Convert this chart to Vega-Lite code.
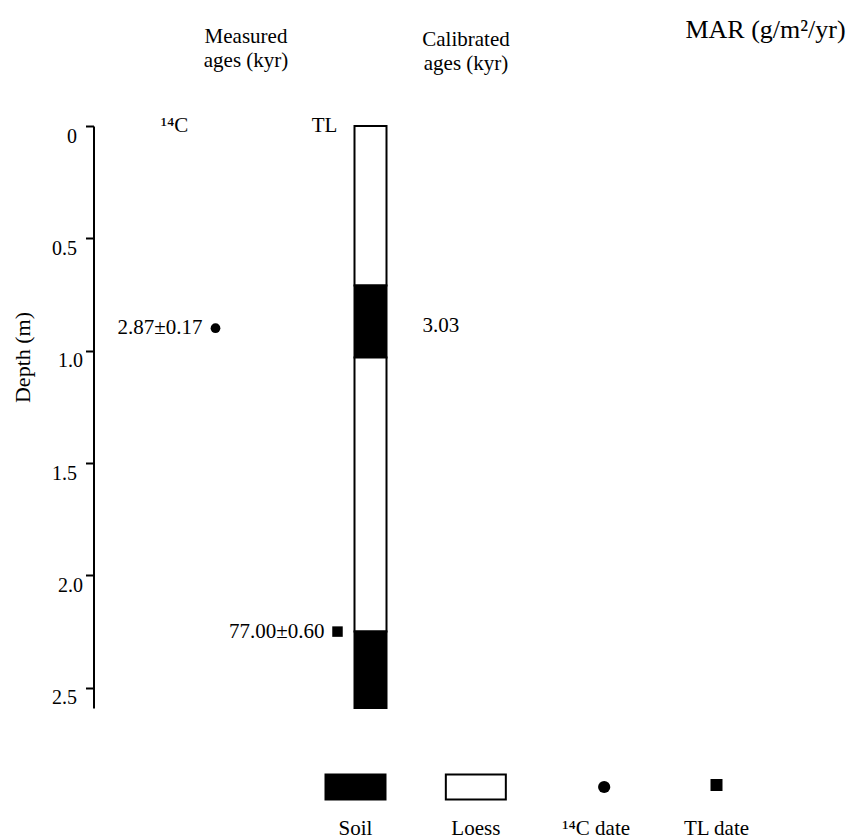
{
  "$schema": "https://vega.github.io/schema/vega-lite/v6.json",
  "padding": {"left": 11.5, "top": 0, "right": 0, "bottom": 0},
  "autosize": {"type": "pad"},
  "bounds": "flush",
  "spacing": 28,
  "config": {
    "view": {"stroke": null},
    "font": "Liberation Serif",
    "text": {"font": "Liberation Serif", "fontSize": 21, "color": "#000000"},
    "axis": {"labelFont": "Liberation Serif", "titleFont": "Liberation Serif"}
  },
  "datasets": {
    "headers": [
      {"header": "Measured", "line": 1, "text": "Measured"},
      {"header": "Measured", "line": 2, "text": "ages (kyr)"},
      {"header": "Calibrated", "line": 1, "text": "Calibrated"},
      {"header": "Calibrated", "line": 2, "text": "ages (kyr)"},
      {"header": "MAR", "line": 1, "text": "MAR (g/m²/yr)"}
    ],
    "lithology": [
      {"track": "Lithology", "unit": "Loess", "top": 0, "bottom": 0.71},
      {"track": "Lithology", "unit": "Soil", "top": 0.71, "bottom": 1.03},
      {"track": "Lithology", "unit": "Loess", "top": 1.03, "bottom": 2.25},
      {"track": "Lithology", "unit": "Soil", "top": 2.25, "bottom": 2.59}
    ],
    "dates": [
      {"track": "14C", "depth": 0.9, "age": "2.87±0.17", "calibrated": "3.03"},
      {"track": "TL", "depth": 2.25, "age": "77.00±0.60", "calibrated": ""}
    ],
    "methods": [
      {"track": "14C", "label": "¹⁴C"},
      {"track": "TL", "label": "TL"}
    ],
    "legend": [
      {"item": "Soil"},
      {"item": "Loess"},
      {"item": "¹⁴C date"},
      {"item": "TL date"}
    ]
  },
  "vconcat": [
    {
      "width": 757,
      "height": 98,
      "data": {"name": "headers"},
      "encoding": {
        "x": {"field": "header", "type": "nominal", "axis": null,
              "scale": {"type": "point", "domain": ["Measured", "Calibrated", "MAR"], "range": [152.5, 672], "padding": 0}},
        "y": {"field": "line", "type": "ordinal", "axis": null,
              "scale": {"type": "point", "domain": [1, 2], "range": [43, 67], "padding": 0}},
        "text": {"field": "text"}
      },
      "layer": [
        {"transform": [{"filter": "datum.header == 'Measured'"}],
         "mark": {"type": "text", "font": "Liberation Serif", "baseline": "alphabetic", "align": "center", "fontSize": 21}},
        {"transform": [{"filter": "datum.header == 'Calibrated'"}],
         "mark": {"type": "text", "font": "Liberation Serif", "baseline": "alphabetic", "align": "center", "fontSize": 21, "dx": -39.75, "dy": 3}},
        {"transform": [{"filter": "datum.header == 'MAR'"}],
         "mark": {"type": "text", "font": "Liberation Serif", "baseline": "alphabetic", "align": "center", "fontSize": 26, "dy": -5}}
      ]
    },
    {
      "width": 757,
      "height": 582,
      "layer": [
        {
          "data": {"name": "lithology"},
          "mark": {"type": "bar", "width": 32, "stroke": "#000000", "strokeWidth": 2},
          "encoding": {
            "x": {"field": "track", "type": "nominal", "axis": null,
                  "scale": {"type": "point", "domain": ["14C", "TL", "Lithology", "Calibrated"], "range": [122, 354.5], "padding": 0}},
            "y": {"field": "top", "type": "quantitative",
                  "scale": {"domain": [0, 2.59], "reverse": true, "nice": false, "zero": false},
                  "axis": {
                    "title": "Depth (m)",
                    "values": [0, 0.5, 1, 1.5, 2, 2.5],
                    "labelExpr": "datum.value == 0 ? '0' : format(datum.value, '.1f')",
                    "grid": false,
                    "domainColor": "#000000", "domainWidth": 2,
                    "tickColor": "#000000", "tickWidth": 2, "tickSize": 8,
                    "labelFont": "Liberation Serif", "labelFontSize": 20, "labelFontWeight": "normal", "labelColor": "#000000",
                    "labelBaseline": "top", "labelAlign": "right",
                    "labelPadding": {"condition": {"test": "datum.value == 1 || datum.value == 2", "value": 3}, "value": 9},
                    "labelOverlap": false, "labelFlush": false,
                    "titleFont": "Liberation Serif", "titleFontSize": 22, "titleFontWeight": "normal", "titleColor": "#000000",
                    "titleAngle": 270, "titleX": -71, "titleY": 231, "titleAlign": "center", "titleBaseline": "middle"
                  }},
            "y2": {"field": "bottom"},
            "fill": {"field": "unit", "type": "nominal",
                     "scale": {"domain": ["Soil", "Loess"], "range": ["#000000", "#ffffff"]}, "legend": null}
          }
        },
        {
          "data": {"name": "dates"},
          "transform": [{"filter": "datum.track == '14C'"}],
          "mark": {"type": "point", "shape": "circle", "filled": true, "size": 95, "color": "#000000", "opacity": 1},
          "encoding": {
            "x": {"field": "track", "type": "nominal", "axis": null},
            "y": {"field": "depth", "type": "quantitative"}
          }
        },
        {
          "data": {"name": "dates"},
          "transform": [{"filter": "datum.track == 'TL'"}],
          "mark": {"type": "point", "shape": "square", "filled": true, "size": 110, "color": "#000000", "opacity": 1, "xOffset": 44.5},
          "encoding": {
            "x": {"field": "track", "type": "nominal", "axis": null},
            "y": {"field": "depth", "type": "quantitative"}
          }
        },
        {
          "data": {"name": "dates"},
          "transform": [{"filter": "datum.track == '14C'"}],
          "mark": {"type": "text", "font": "Liberation Serif", "align": "right", "baseline": "middle", "dx": -13, "fontSize": 21},
          "encoding": {
            "x": {"field": "track", "type": "nominal", "axis": null},
            "y": {"field": "depth", "type": "quantitative"},
            "text": {"field": "age"}
          }
        },
        {
          "data": {"name": "dates"},
          "transform": [{"filter": "datum.track == 'TL'"}],
          "mark": {"type": "text", "font": "Liberation Serif", "align": "right", "baseline": "middle", "dx": 31.5, "fontSize": 21},
          "encoding": {
            "x": {"field": "track", "type": "nominal", "axis": null},
            "y": {"field": "depth", "type": "quantitative"},
            "text": {"field": "age"}
          }
        },
        {
          "data": {"name": "dates"},
          "transform": [{"filter": "datum.calibrated != ''"}],
          "mark": {"type": "text", "font": "Liberation Serif", "align": "left", "baseline": "middle", "dx": -25.5, "dy": -2, "fontSize": 21},
          "encoding": {
            "x": {"datum": "Calibrated", "type": "nominal", "axis": null},
            "y": {"field": "depth", "type": "quantitative"},
            "text": {"field": "calibrated"}
          }
        },
        {
          "data": {"name": "methods"},
          "transform": [{"filter": "datum.track == '14C'"}],
          "mark": {"type": "text", "font": "Liberation Serif", "align": "center", "baseline": "middle", "dx": -41, "fontSize": 21},
          "encoding": {
            "x": {"field": "track", "type": "nominal", "axis": null},
            "y": {"datum": 0, "type": "quantitative"},
            "text": {"field": "label"}
          }
        },
        {
          "data": {"name": "methods"},
          "transform": [{"filter": "datum.track == 'TL'"}],
          "mark": {"type": "text", "font": "Liberation Serif", "align": "center", "baseline": "middle", "dx": 31.5, "fontSize": 21},
          "encoding": {
            "x": {"field": "track", "type": "nominal", "axis": null},
            "y": {"datum": 0, "type": "quantitative"},
            "text": {"field": "label"}
          }
        }
      ]
    },
    {
      "width": 757,
      "height": 99,
      "data": {"name": "legend"},
      "encoding": {
        "x": {"field": "item", "type": "nominal", "axis": null,
              "scale": {"type": "point", "domain": ["Soil", "Loess", "¹⁴C date", "TL date"], "range": [262, 623], "padding": 0}}
      },
      "layer": [
        {
          "transform": [{"filter": "datum.item == 'Soil'"}],
          "mark": {"type": "point", "shape": "M-1,-0.42H1V0.42H-1Z", "size": 3600, "filled": true, "fill": "#000000", "stroke": "#000000", "strokeWidth": 2, "opacity": 1},
          "encoding": {"y": {"datum": "symbol", "type": "nominal", "axis": null,
                             "scale": {"type": "point", "domain": ["symbol", "label"], "range": [51, 99], "padding": 0}}}
        },
        {
          "transform": [{"filter": "datum.item == 'Loess'"}],
          "mark": {"type": "point", "shape": "M-1,-0.42H1V0.42H-1Z", "size": 3600, "filled": true, "fill": "#ffffff", "stroke": "#000000", "strokeWidth": 2, "opacity": 1},
          "encoding": {"y": {"datum": "symbol", "type": "nominal", "axis": null}}
        },
        {
          "transform": [{"filter": "datum.item == '¹⁴C date'"}],
          "mark": {"type": "point", "shape": "circle", "size": 150, "filled": true, "color": "#000000", "opacity": 1, "xOffset": 8},
          "encoding": {"y": {"datum": "symbol", "type": "nominal", "axis": null}}
        },
        {
          "transform": [{"filter": "datum.item == 'TL date'"}],
          "mark": {"type": "point", "shape": "square", "size": 144, "filled": true, "color": "#000000", "opacity": 1, "yOffset": -2},
          "encoding": {"y": {"datum": "symbol", "type": "nominal", "axis": null}}
        },
        {
          "mark": {"type": "text", "font": "Liberation Serif", "align": "center", "baseline": "alphabetic", "fontSize": 21},
          "encoding": {
            "y": {"datum": "label", "type": "nominal", "axis": null},
            "text": {"field": "item"}
          }
        }
      ]
    }
  ]
}
